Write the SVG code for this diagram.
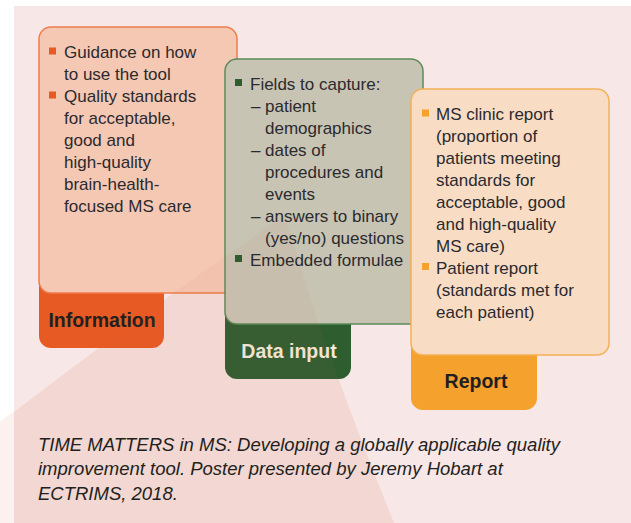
<svg xmlns="http://www.w3.org/2000/svg" width="631" height="523" viewBox="0 0 631 523">
  <style>
    .body { font-family: "Liberation Sans", Arial, sans-serif; font-size: 17px; fill: #2b2a2e; }
    .label { font-family: "Liberation Sans", Arial, sans-serif; font-size: 19.5px; font-weight: bold; text-anchor: middle; }
    .cap { font-family: "Liberation Sans", Arial, sans-serif; font-size: 18.5px; font-style: italic; fill: #231f20; }
  </style>
  <rect x="0" y="0" width="631" height="523" fill="#ffffff"/>
  <path d="M0 422 L14 411 L14 523 L0 523 Z" fill="#fcf1ef"/>
  <rect x="14" y="6" width="617" height="517" fill="#f7e7e7"/>
  <path d="M14 412 Q 160 300 285 215 Q 320 340 394 523 L 14 523 Z" fill="#f5dfda"/>

  <g id="information">
    <rect x="39" y="240" width="125" height="108" rx="12" fill="#e85a23"/>
    <rect x="39" y="27" width="198" height="266" rx="12" fill="#f5c8b4" stroke="#ee7c4c" stroke-width="1.5"/>
    <text class="label" x="102" y="327" fill="#231f20">Information</text>
  </g>

  <g id="data-input">
    <rect x="225" y="280" width="126" height="99" rx="12" fill="#2e5e30"/>
    <rect x="225" y="59" width="198" height="265" rx="12" fill="#c8c4b3" stroke="#5b8a58" stroke-width="1.5"/>
    <text class="label" x="289" y="358" fill="#f3ead8">Data input</text>
  </g>

  <g id="report">
    <rect x="411" y="300" width="126" height="110" rx="12" fill="#f4a22d"/>
    <rect x="411" y="89" width="198" height="266" rx="12" fill="#f8dcc4" stroke="#f4b055" stroke-width="1.5"/>
    <text class="label" x="476" y="388" fill="#231f20">Report</text>
  </g>

  <path d="M14 412 Q 160 300 285 215 Q 320 340 394 523 L 14 523 Z" fill="#c86a50" opacity="0.06"/>

  <g id="information-text">
    <rect x="49" y="47.5" width="7" height="7" fill="#e85a23"/>
    <text class="body" x="64" y="58">Guidance on how</text>
    <text class="body" x="64" y="80">to use the tool</text>
    <rect x="49" y="91.5" width="7" height="7" fill="#e85a23"/>
    <text class="body" x="64" y="102">Quality standards</text>
    <text class="body" x="64" y="124">for acceptable,</text>
    <text class="body" x="64" y="146">good and</text>
    <text class="body" x="64" y="168">high-quality</text>
    <text class="body" x="64" y="190">brain-health-</text>
    <text class="body" x="64" y="212">focused MS care</text>
  </g>

  <g id="data-input-text">
    <rect x="235" y="79" width="7" height="7" fill="#2e5e30"/>
    <text class="body" x="250" y="89.5">Fields to capture:</text>
    <text class="body" x="251" y="111.5">–</text>
    <text class="body" x="265" y="111.5">patient</text>
    <text class="body" x="265" y="133.5">demographics</text>
    <text class="body" x="251" y="155.5">–</text>
    <text class="body" x="265" y="155.5">dates of</text>
    <text class="body" x="265" y="177.5">procedures and</text>
    <text class="body" x="265" y="199.5">events</text>
    <text class="body" x="251" y="221.5">–</text>
    <text class="body" x="265" y="221.5">answers to binary</text>
    <text class="body" x="265" y="243.5">(yes/no) questions</text>
    <rect x="235" y="255" width="7" height="7" fill="#2e5e30"/>
    <text class="body" x="250" y="265.5">Embedded formulae</text>
  </g>

  <g id="report-text">
    <rect x="422" y="109.5" width="7" height="7" fill="#f4a22d"/>
    <text class="body" x="436" y="119.5">MS clinic report</text>
    <text class="body" x="436" y="141.5">(proportion of</text>
    <text class="body" x="436" y="163.5">patients meeting</text>
    <text class="body" x="436" y="185.5">standards for</text>
    <text class="body" x="436" y="207.5">acceptable, good</text>
    <text class="body" x="436" y="229.5">and high-quality</text>
    <text class="body" x="436" y="251.5">MS care)</text>
    <rect x="422" y="263" width="7" height="7" fill="#f4a22d"/>
    <text class="body" x="436" y="273.5">Patient report</text>
    <text class="body" x="436" y="295.5">(standards met for</text>
    <text class="body" x="436" y="317.5">each patient)</text>
  </g>

  <g id="caption">
    <text class="cap" x="38" y="451">TIME MATTERS in MS: Developing a globally applicable quality</text>
    <text class="cap" x="38" y="475">improvement tool. Poster presented by Jeremy Hobart at</text>
    <text class="cap" x="38" y="500">ECTRIMS, 2018.</text>
  </g>
  <g id="connectors"/>
</svg>
